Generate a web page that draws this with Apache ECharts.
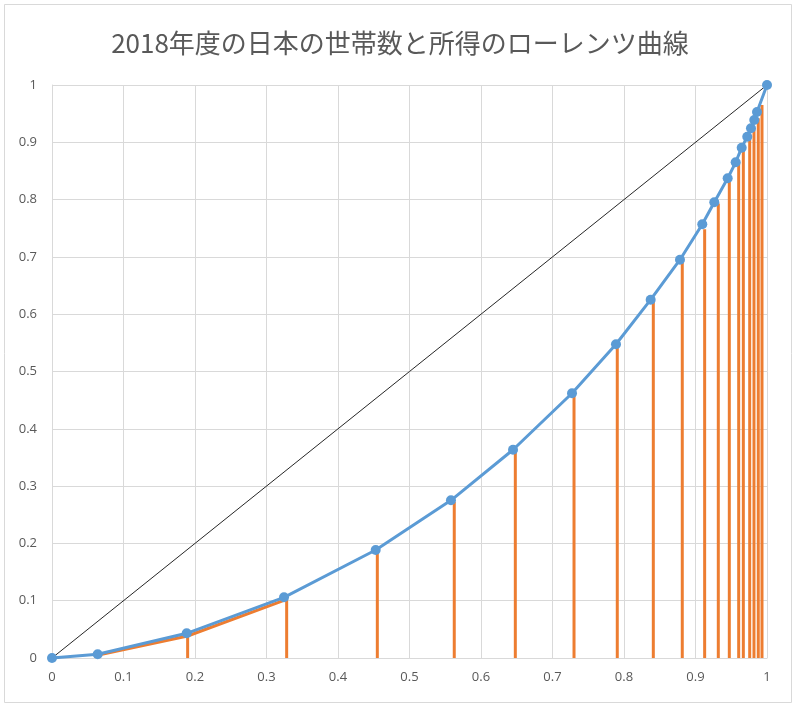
<!DOCTYPE html>
<html>
<head>
<meta charset="utf-8">
<script src="https://cdn.jsdelivr.net/npm/echarts@6/dist/echarts.min.js"></script>
<style>
html,body{margin:0;padding:0;background:#fff;}
#chart{width:800px;height:709px;}
</style>
</head>
<body>
<div id="chart"></div>
<script>
// Data
const titleText = '2018年度の日本の世帯数と所得のローレンツ曲線';

// Blue Lorenz curve (cumulative households share, cumulative income share)
const lorenzX = [0, 0.0639, 0.1884, 0.3245, 0.4527, 0.558, 0.6448, 0.7273, 0.7888, 0.8373, 0.8783, 0.9095, 0.9263, 0.945, 0.9562, 0.9646, 0.9724, 0.9776, 0.9822, 0.986, 1];
const lorenzY = [0, 0.0065, 0.0431, 0.1059, 0.1885, 0.2752, 0.3635, 0.462, 0.5475, 0.6253, 0.6951, 0.7569, 0.7953, 0.8372, 0.8651, 0.8906, 0.9098, 0.9244, 0.9389, 0.953, 1];

// Orange drop bars
const orangeX = [0.0648, 0.1897, 0.3282, 0.455, 0.5626, 0.648, 0.7301, 0.7906, 0.841, 0.8815, 0.9128, 0.9319, 0.9473, 0.9604, 0.9669, 0.9758, 0.9818, 0.9878, 0.993];
const orangeY = [0.0052, 0.0384, 0.1024, 0.1855, 0.2728, 0.3618, 0.459, 0.5436, 0.6222, 0.6902, 0.7481, 0.793, 0.8325, 0.8639, 0.8883, 0.9058, 0.9232, 0.9418, 0.9651];
// Number of leading orange points joined by a line
const orangeLineCount = 3;

// Line of equality
const diagX = [0, 1];
const diagY = [0, 1];

// Axis ticks
const axisMin = 0;
const axisMax = 1;
const axisStep = 0.1;

const zip = (xs, ys) => xs.map((x, i) => [x, ys[i]]);

const chart = echarts.init(document.getElementById('chart'), null, {renderer: 'canvas'});

const labelStyle = {color: '#595959', fontSize: 13, fontFamily: '"Open Sans", "Noto Sans", sans-serif'};
const gridColor = '#D9D9D9';

chart.setOption({
  animation: false,
  backgroundColor: '#ffffff',
  title: {
    text: titleText,
    left: 'center',
    top: 25,
    textStyle: {
      color: '#595959',
      fontSize: 26,
      fontWeight: 'normal',
      fontFamily: '"Noto Sans CJK JP", sans-serif'
    }
  },
  graphic: [{
    type: 'rect',
    shape: {x: 4.5, y: 4.5, width: 787, height: 698},
    style: {fill: 'none', stroke: '#D9D9D9', lineWidth: 1},
    silent: true,
    z: -1
  }],
  grid: {left: 52, right: 33, top: 85, bottom: 51, containLabel: false},
  xAxis: {
    type: 'value',
    min: axisMin, max: axisMax, interval: axisStep,
    axisLine: {show: true, lineStyle: {color: gridColor, width: 1}},
    axisTick: {show: false},
    splitLine: {show: true, lineStyle: {color: gridColor, width: 1}},
    axisLabel: Object.assign({margin: 13}, labelStyle)
  },
  yAxis: {
    type: 'value',
    min: axisMin, max: axisMax, interval: axisStep,
    axisLine: {show: true, lineStyle: {color: gridColor, width: 1}},
    axisTick: {show: false},
    splitLine: {show: true, lineStyle: {color: gridColor, width: 1}},
    axisLabel: Object.assign({margin: 15}, labelStyle)
  },
  series: [
    {
      type: 'line',
      name: 'diag',
      data: zip(diagX, diagY),
      symbol: 'none',
      lineStyle: {color: '#262626', width: 1},
      z: 2
    },
    {
      type: 'custom',
      name: 'drop',
      data: zip(orangeX, orangeY),
      encode: {x: 0, y: 1},
      renderItem: function (params, api) {
        const x = api.value(0), y = api.value(1);
        const p0 = api.coord([x, 0]);
        const p1 = api.coord([x, y]);
        return {
          type: 'line',
          shape: {x1: p0[0], y1: p0[1], x2: p1[0], y2: p1[1]},
          style: {stroke: '#ED7D31', lineWidth: 3}
        };
      },
      z: 3
    },
    {
      type: 'line',
      name: 'orangeLine',
      data: zip(orangeX.slice(0, orangeLineCount), orangeY.slice(0, orangeLineCount)),
      symbol: 'none',
      lineStyle: {color: '#ED7D31', width: 3},
      z: 3
    },
    {
      type: 'line',
      name: 'lorenz',
      data: zip(lorenzX, lorenzY),
      symbol: 'circle',
      symbolSize: 10,
      showAllSymbol: true,
      itemStyle: {color: '#5B9BD5'},
      lineStyle: {color: '#5B9BD5', width: 3},
      z: 4
    }
  ]
});
</script>
</body>
</html>
